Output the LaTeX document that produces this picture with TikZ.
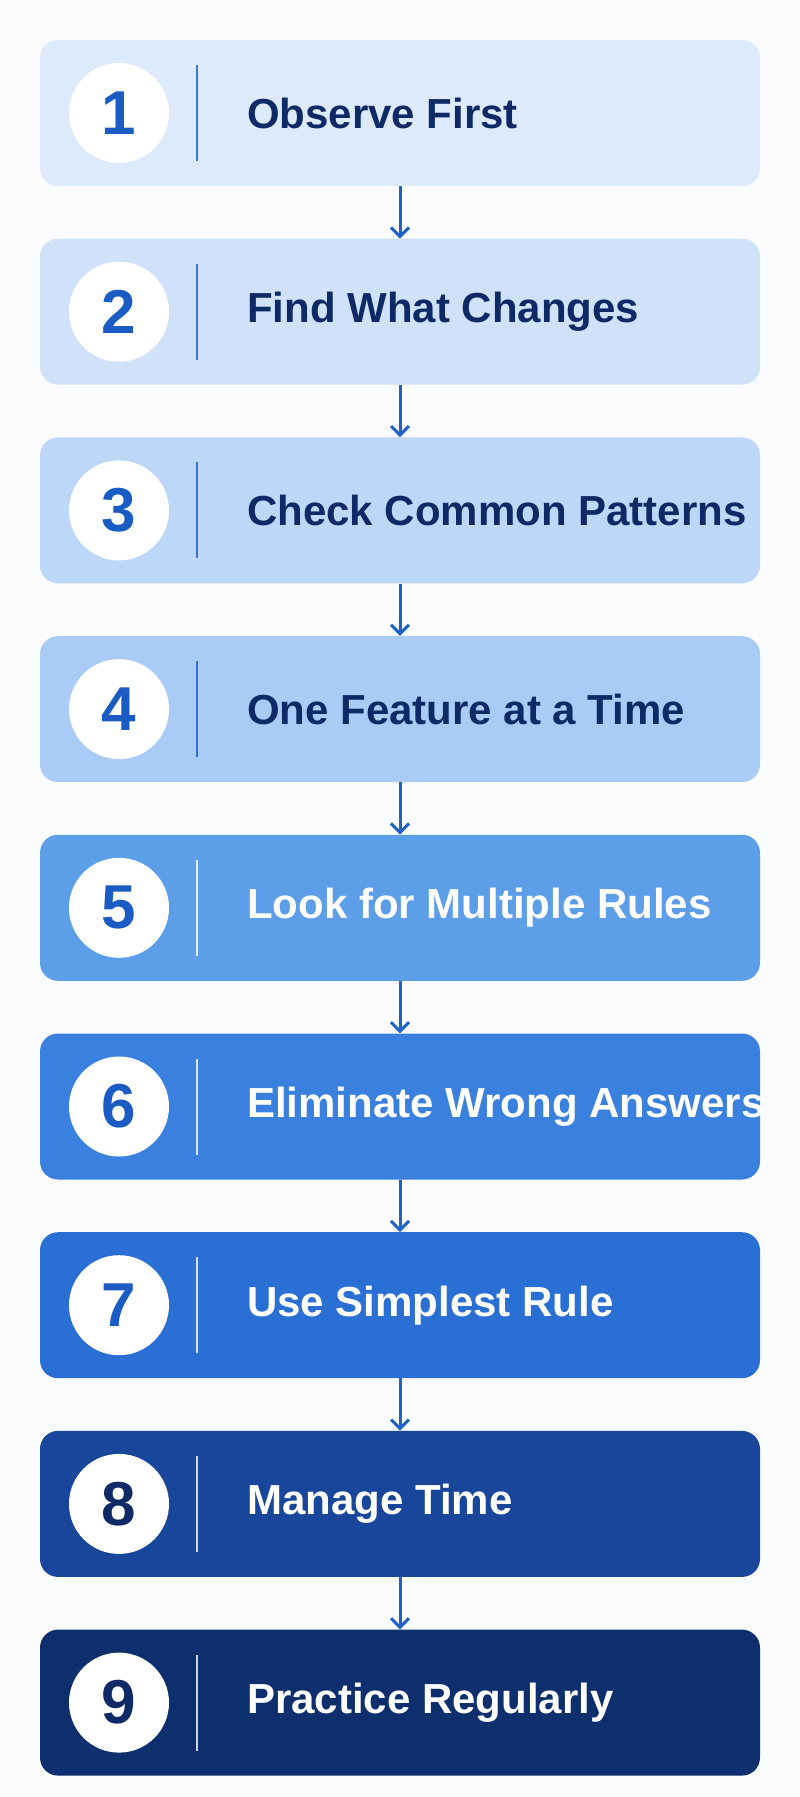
\documentclass[tikz,border=0pt]{standalone}
\usepackage{fontspec}
\setmainfont{Liberation Sans}
\usetikzlibrary{arrows.meta}
\definecolor{bg}{HTML}{FAFBFD}
\definecolor{navy}{HTML}{0D2A66}
\definecolor{numblue}{HTML}{1A5BC4}
\definecolor{arr}{HTML}{1F62C9}
\definecolor{c1}{HTML}{DCEAFB}
\definecolor{c2}{HTML}{CFE2FA}
\definecolor{c3}{HTML}{BDD7F8}
\definecolor{c4}{HTML}{A9CCF7}
\definecolor{c5}{HTML}{5C9EE8}
\definecolor{c6}{HTML}{3A80DE}
\definecolor{c7}{HTML}{2A6FD4}
\definecolor{c8}{HTML}{17469A}
\definecolor{c9}{HTML}{0E2F6E}
\tikzset{
  x=1pt,y=-1pt,
  box/.style={rounded corners=18pt, minimum width=720pt, minimum height=146pt, inner sep=0pt, draw=none},
  circ/.style={circle, fill=white, minimum size=100pt, inner sep=0pt, font=\fontsize{62}{62}\selectfont\bfseries},
  lab/.style={anchor=west, inner sep=0pt, font=\fontsize{42}{42}\selectfont\bfseries},
  conn/.style={arr, line width=3pt, -{Straight Barb[length=9pt,width=18pt,line width=3pt]}}
}
\begin{document}
\begin{tikzpicture}
\fill[bg] (0,0) rectangle (800,1797);
\useasboundingbox (0,0) rectangle (800,1797);
\foreach \i/\t/\fc/\tc/\nc/\dc in {
 1/Observe First/c1/navy/numblue/numblue,
 2/Find What Changes/c2/navy/numblue/numblue,
 3/Check Common Patterns/c3/navy/numblue/numblue,
 4/One Feature at a Time/c4/navy/numblue/numblue,
 5/Look for Multiple Rules/c5/white/numblue/white,
 6/Eliminate Wrong Answers/c6/white/numblue/white,
 7/Use Simplest Rule/c7/white/numblue/white,
 8/Manage Time/c8/white/navy/white,
 9/Practice Regularly/c9/white/navy/white}{
  \pgfmathsetmacro{\cy}{113+198.7*(\i-1)}
  \node[box, fill=\fc] (b\i) at (400,\cy) {};
  \node[circ, text=\nc] (n\i) at (119,\cy) {\i};
  \coordinate (dt\i) at (197,\cy-48);
  \coordinate (db\i) at (197,\cy+48);
  \draw[\dc, line width=2.5pt, opacity=0.8] (dt\i) -- (db\i);
  \node[lab, text=\tc] (t\i) at (247,\cy) {\t};
}
\foreach \i [evaluate=\i as \j using int(\i+1)] in {1,...,8}{
  \draw[conn] (b\i.south) -- (b\j.north);
}
\end{tikzpicture}
\end{document}
